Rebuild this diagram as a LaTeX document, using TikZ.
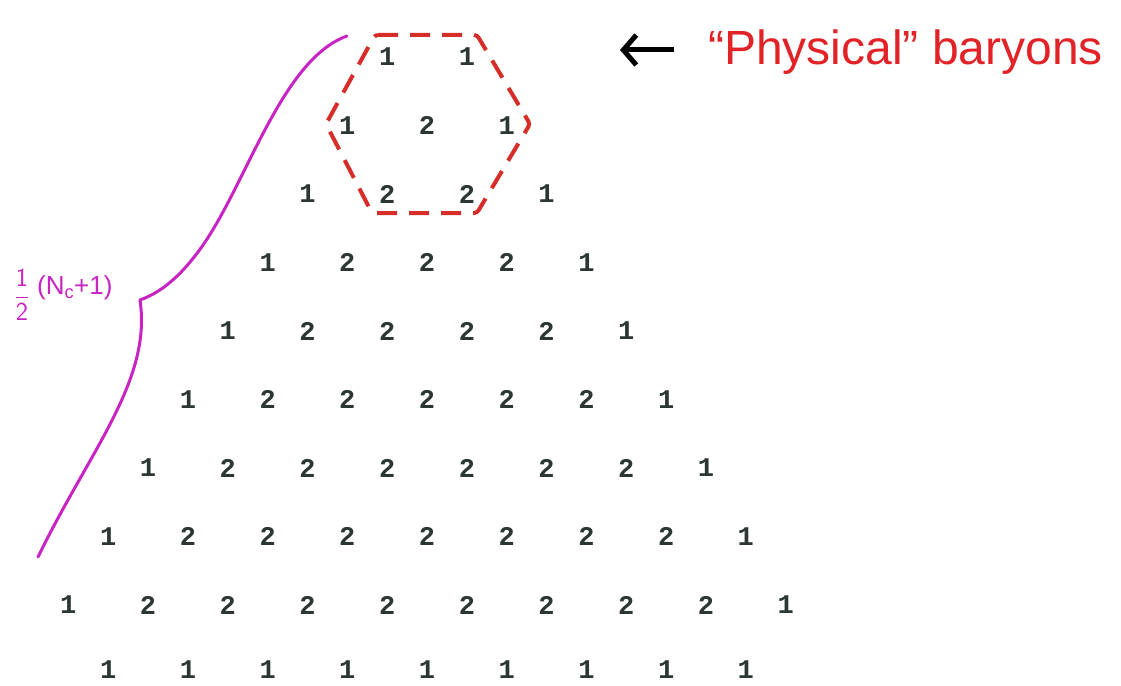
\documentclass[tikz,border=0pt]{standalone}
\usepackage{fontspec}
\setmainfont{Liberation Sans}
\newfontfamily\digitfont{Liberation Mono}
\usetikzlibrary{arrows.meta}
\definecolor{ink}{RGB}{45,55,50}
\definecolor{hexred}{RGB}{215,45,40}
\definecolor{txtred}{RGB}{225,35,40}
\definecolor{bracecol}{RGB}{200,35,195}
\begin{document}
\begin{tikzpicture}[x=1pt,y=-1pt,
  num/.style={font=\digitfont\bfseries\fontsize{27}{27}\selectfont, text=ink, inner sep=0pt, anchor=center},
  hexline/.style={draw=hexred, line width=4pt, dash pattern=on 20pt off 12pt, rounded corners=3pt},
  braceline/.style={draw=bracecol, line width=3pt, line cap=round},
  redlabel/.style={text=txtred, font=\fontsize{48}{48}\selectfont, inner sep=0pt},
  fraclabel/.style={text=bracecol, font=\fontsize{26}{26}\selectfont, inner sep=0pt},
  pointer/.style={draw=black, line width=5pt, -{Straight Barb[length=13pt,width=30pt]}}]
\useasboundingbox (0,0) rectangle (1121,685);
\fill[white] (0,0) rectangle (1121,685);
% triangle of multiplicities
\foreach \i in {1,...,9} {
  \foreach \j in {0,...,\i} {
    \pgfmathsetmacro\xx{427+(\j-\i/2)*79.7}
    \pgfmathsetmacro\yy{57+(\i-1)*68.5}
    \ifnum\j=0 \def\v{1}\else\ifnum\j=\i \def\v{1}\else\def\v{2}\fi\fi
    \node[num] (n\i-\j) at (\xx,\yy) {\v};
  }
}
\foreach \j in {0,...,8} {
  \pgfmathsetmacro\xx{427+(\j-4)*79.7}
  \node[num] (b-\j) at (\xx,670) {1};
}
% hexagon of physical baryons
\draw[hexline] (375,35) -- (477,35) -- (530,124) -- (477,213) -- (372,213) -- (326,124) -- cycle;
% brace
\coordinate (btop) at (347,36);
\coordinate (bcusp) at (140,300);
\coordinate (bbot) at (38,557);
\draw[braceline] (btop) .. controls (280,60) and (245,190) .. (198,252)
  .. controls (180,276) and (162,292) .. (bcusp);
\draw[braceline] (bcusp) .. controls (152,380) and (90,450) .. (bbot);
\node[fraclabel] (half) at (22,295) {$\displaystyle\frac{\mathsf{1}}{\mathsf{2}}$};
\node[fraclabel, anchor=west] (nc) at (37,288) {(N\textsubscript{c}+1)};
% arrow and label
\node[redlabel, anchor=base west] (phys) at (708,65) {“Physical” baryons};
\coordinate (atail) at (674,50);
\coordinate (atip) at (620,50);
\draw[pointer] (atail) -- (atip);
\end{tikzpicture}
\end{document}
